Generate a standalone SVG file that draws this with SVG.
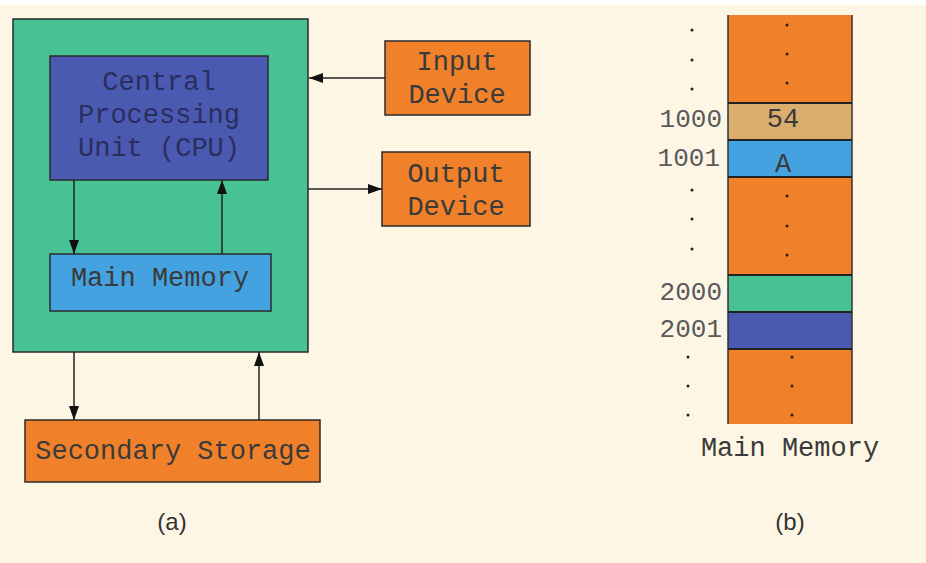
<svg xmlns="http://www.w3.org/2000/svg" width="926" height="563" viewBox="0 0 926 563">
<defs>
<style>
.box{stroke:#2a2a2a;stroke-width:1.5}
.t{font-family:"Liberation Mono","Courier New",monospace;font-size:27px;fill:#3a3a3a;text-anchor:middle}
.lab{font-family:"Liberation Mono","Courier New",monospace;font-size:26px;fill:#5a5a5a;text-anchor:end}
.cap{font-family:"Liberation Sans",Arial,sans-serif;font-size:24px;fill:#333;text-anchor:middle}
.con{stroke:#222;stroke-width:1.5;fill:none;marker-end:url(#ah)}
.dot{fill:#222}
.div{stroke:#222;stroke-width:2}
</style>
<marker id="ah" viewBox="0 0 14 10" refX="14" refY="5" markerWidth="14" markerHeight="10" markerUnits="userSpaceOnUse" orient="auto">
<path d="M0,0 L14,5 L0,10 z" fill="#111"/>
</marker>
</defs>
<rect x="0" y="0" width="926" height="563" fill="#FEF6E4"/>
<rect x="0" y="0" width="926" height="5" fill="#FFFFFF"/>

<g id="computer">
<rect class="box" x="13" y="19" width="295" height="333" fill="#48C194"/>
</g>
<g id="cpu">
<rect class="box" x="50" y="56" width="218" height="124" fill="#4A5AB0"/>
<text class="t" x="159" y="90" style="fill:#2a2e5e">Central</text>
<text class="t" x="159" y="123" style="fill:#2a2e5e">Processing</text>
<text class="t" x="159" y="156" style="fill:#2a2e5e">Unit (CPU)</text>
</g>
<g id="main-memory">
<rect class="box" x="50" y="254" width="221" height="57" fill="#45A2E0"/>
<text class="t" x="160" y="286">Main Memory</text>
</g>
<g id="input-device">
<rect class="box" x="385" y="41" width="145" height="74" fill="#F0812A"/>
<text class="t" x="457" y="70">Input</text>
<text class="t" x="457" y="103">Device</text>
</g>
<g id="output-device">
<rect class="box" x="382" y="152" width="148" height="74" fill="#F0812A"/>
<text class="t" x="456" y="182">Output</text>
<text class="t" x="456" y="215">Device</text>
</g>
<g id="secondary-storage">
<rect class="box" x="25" y="420" width="295" height="62" fill="#F0812A"/>
<text class="t" x="173" y="459">Secondary Storage</text>
</g>

<g id="connectors">
<line class="con" x1="385" y1="78" x2="309" y2="78"/>
<line class="con" x1="308" y1="189" x2="382" y2="189"/>
<line class="con" x1="74" y1="180" x2="74" y2="254"/>
<line class="con" x1="222" y1="254" x2="222" y2="180"/>
<line class="con" x1="74" y1="352" x2="74" y2="420"/>
<line class="con" x1="259" y1="420" x2="259" y2="352"/>
</g>

<g id="memory-column">
<rect x="728" y="15" width="124" height="88" fill="#F0812A"/>
<rect x="728" y="103" width="124" height="37" fill="#D9AE6E"/>
<rect x="728" y="140" width="124" height="37" fill="#45A2E0"/>
<rect x="728" y="177" width="124" height="98" fill="#F0812A"/>
<rect x="728" y="275" width="124" height="37" fill="#48C194"/>
<rect x="728" y="312" width="124" height="37" fill="#4A5AB0"/>
<rect x="728" y="349" width="124" height="75" fill="#F0812A"/>
<line x1="728" y1="15" x2="728" y2="424" stroke="#333" stroke-width="1.5"/>
<line x1="852" y1="15" x2="852" y2="424" stroke="#333" stroke-width="1.5"/>
<line class="div" x1="728" y1="103" x2="852" y2="103"/>
<line class="div" x1="728" y1="140" x2="852" y2="140"/>
<line class="div" x1="728" y1="177" x2="852" y2="177"/>
<line class="div" x1="728" y1="275" x2="852" y2="275"/>
<line class="div" x1="728" y1="312" x2="852" y2="312"/>
<line class="div" x1="728" y1="349" x2="852" y2="349"/>
<text class="t" x="783" y="127">54</text>
<text class="t" x="783" y="172">A</text>
<circle class="dot" cx="787" cy="25" r="1.5"/>
<circle class="dot" cx="787" cy="54" r="1.5"/>
<circle class="dot" cx="787" cy="83" r="1.5"/>
<circle class="dot" cx="787" cy="196" r="1.5"/>
<circle class="dot" cx="787" cy="226" r="1.5"/>
<circle class="dot" cx="787" cy="255" r="1.5"/>
<circle class="dot" cx="792" cy="357" r="1.5"/>
<circle class="dot" cx="792" cy="386" r="1.5"/>
<circle class="dot" cx="792" cy="415" r="1.5"/>
<circle class="dot" cx="692" cy="30" r="1.5"/>
<circle class="dot" cx="692" cy="60" r="1.5"/>
<circle class="dot" cx="692" cy="89" r="1.5"/>
<circle class="dot" cx="692" cy="190" r="1.5"/>
<circle class="dot" cx="692" cy="219" r="1.5"/>
<circle class="dot" cx="692" cy="249" r="1.5"/>
<circle class="dot" cx="688" cy="357" r="1.5"/>
<circle class="dot" cx="688" cy="386" r="1.5"/>
<circle class="dot" cx="688" cy="415" r="1.5"/>
<text class="lab" x="722" y="127">1000</text>
<text class="lab" x="720" y="166">1001</text>
<text class="lab" x="722" y="300">2000</text>
<text class="lab" x="722" y="337">2001</text>
<text class="t" x="790" y="456">Main Memory</text>
</g>

<text class="cap" x="172" y="530">(a)</text>
<text class="cap" x="790" y="530">(b)</text>
</svg>
